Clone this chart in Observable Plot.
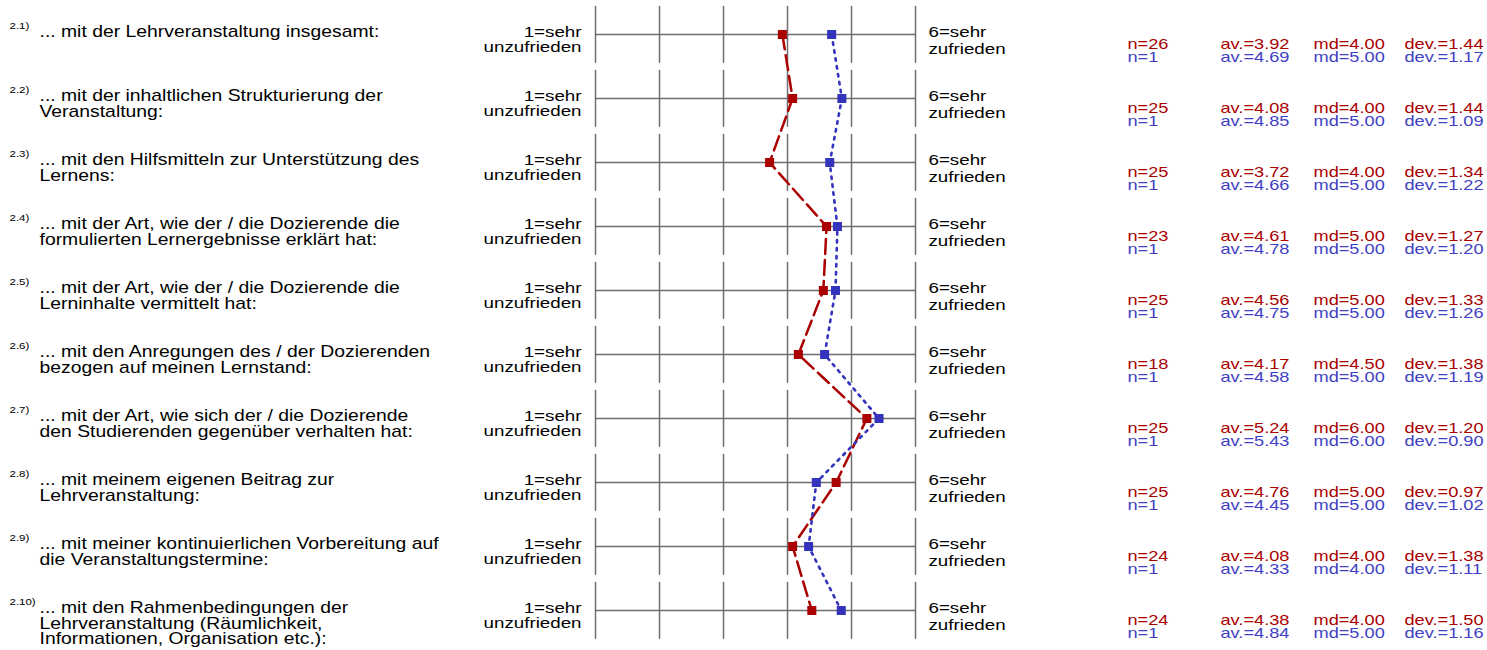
<!DOCTYPE html>
<html>
<head>
<meta charset="utf-8">
<script src="https://cdn.jsdelivr.net/npm/d3@7"></script>
<script src="https://cdn.jsdelivr.net/npm/@observablehq/plot@0.6"></script>
<style>
  html, body { margin: 0; padding: 0; background: #fff; }
</style>
</head>
<body>
<div id="chart"></div>
<script>
const itemNumbers = ["2.1)", "2.2)", "2.3)", "2.4)", "2.5)", "2.6)", "2.7)", "2.8)", "2.9)", "2.10)"];
const itemLabels = [
  "... mit der Lehrveranstaltung insgesamt:",
  "... mit der inhaltlichen Strukturierung der\nVeranstaltung:",
  "... mit den Hilfsmitteln zur Unterstützung des\nLernens:",
  "... mit der Art, wie der / die Dozierende die\nformulierten Lernergebnisse erklärt hat:",
  "... mit der Art, wie der / die Dozierende die\nLerninhalte vermittelt hat:",
  "... mit den Anregungen des / der Dozierenden\nbezogen auf meinen Lernstand:",
  "... mit der Art, wie sich der / die Dozierende\nden Studierenden gegenüber verhalten hat:",
  "... mit meinem eigenen Beitrag zur\nLehrveranstaltung:",
  "... mit meiner kontinuierlichen Vorbereitung auf\ndie Veranstaltungstermine:",
  "... mit den Rahmenbedingungen der\nLehrveranstaltung (Räumlichkeit,\nInformationen, Organisation etc.):"
];
const leftPole = "1=sehr\nunzufrieden";
const rightPole = "6=sehr\nzufrieden";
const scaleTicks = [1, 2, 3, 4, 5, 6];

const redN   = [26, 25, 25, 23, 25, 18, 25, 25, 24, 24];
const redAv  = [3.92, 4.08, 3.72, 4.61, 4.56, 4.17, 5.24, 4.76, 4.08, 4.38];
const redMd  = [4.00, 4.00, 4.00, 5.00, 5.00, 4.50, 6.00, 5.00, 4.00, 4.00];
const redDev = [1.44, 1.44, 1.34, 1.27, 1.33, 1.38, 1.20, 0.97, 1.38, 1.50];

const blueN   = [1, 1, 1, 1, 1, 1, 1, 1, 1, 1];
const blueAv  = [4.69, 4.85, 4.66, 4.78, 4.75, 4.58, 5.43, 4.45, 4.33, 4.84];
const blueMd  = [5.00, 5.00, 5.00, 5.00, 5.00, 5.00, 6.00, 5.00, 4.00, 5.00];
const blueDev = [1.17, 1.09, 1.22, 1.20, 1.26, 1.19, 0.90, 1.02, 1.11, 1.16];

const RED = "#aa0000";
const BLUE = "#3333bb";
const BLUE_TXT = "#4040c4";
const GRID = "#6e6e6e";

const rows = itemLabels.map((label, i) => ({
  row: i + 1, num: itemNumbers[i], label,
  redN: redN[i], redAv: redAv[i], redMd: redMd[i], redDev: redDev[i],
  blueN: blueN[i], blueAv: blueAv[i], blueMd: blueMd[i], blueDev: blueDev[i]
}));
const gridTicks = rows.flatMap(r => scaleTicks.map(t => ({row: r.row, t})));
const f2 = v => v.toFixed(2);

const STRETCH = 1.21;      // text in the reference is horizontally widened
const STAT_STRETCH = 1.3;  // the statistics columns are a bit smaller and wider
const statTxt = {fontSize: 14, frameAnchor: "left", textAnchor: "start", lineAnchor: "top"};
const statCols = [
  ["n=", "N", v => String(v), 1127],
  ["av.=", "Av", f2, 1220],
  ["md=", "Md", f2, 1313],
  ["dev.=", "Dev", f2, 1404]
];
const statMarks = statCols.flatMap(([prefix, key, fmt, x]) => [
  Plot.text(rows, {...statTxt, y: "row", text: d => prefix + fmt(d["red" + key]), dx: x, dy: 4.5, fill: RED}),
  Plot.text(rows, {...statTxt, y: "row", text: d => prefix + fmt(d["blue" + key]), dx: x, dy: 18, fill: BLUE_TXT})
]);

const chart = Plot.plot({
  width: 1487,
  height: 650,
  margin: 0,
  x: {domain: [1, 6], range: [595, 915], axis: null},
  y: {domain: [1, 10], range: [34, 610], axis: null},
  style: {fontFamily: "'Liberation Sans', Arial, sans-serif", background: "#fff"},
  marks: [
    Plot.ruleY(rows, {y: "row", x1: 1, x2: 6, stroke: GRID, strokeWidth: 1.5}),
    Plot.ruleX(gridTicks, {x: "t", y1: d => d.row - 0.44, y2: d => d.row + 0.45, stroke: GRID, strokeWidth: 1.5}),
    Plot.line(rows, {x: "redAv", y: "row", stroke: RED, strokeWidth: 2.5, strokeDasharray: "15,6"}),
    Plot.line(rows, {x: "blueAv", y: "row", stroke: BLUE, strokeWidth: 2.6, strokeDasharray: "2.5,5.5"}),
    Plot.dot(rows, {x: "redAv", y: "row", symbol: "square", r: 5.1, fill: RED, stroke: null}),
    Plot.dot(rows, {x: "blueAv", y: "row", symbol: "square", r: 5.1, fill: BLUE, stroke: null}),
    // item numbers (superscript)
    Plot.text(rows, {y: "row", text: "num", frameAnchor: "left", textAnchor: "start", lineAnchor: "top", dx: 9, dy: -12.5, fontSize: 9.5, fill: "#000"}),
    // item labels
    Plot.text(rows, {y: "row", text: "label", frameAnchor: "left", textAnchor: "start", lineAnchor: "top", fontSize: 16, lineHeight: 0.98, dx: 39, dy: -8.5, fill: "#000"}),
    // scale poles
    Plot.text(rows, {y: "row", text: () => leftPole, frameAnchor: "left", textAnchor: "end", lineAnchor: "top", fontSize: 15.5, lineHeight: 1.0, dx: 581, dy: -9, fill: "#000"}),
    Plot.text(rows, {x: () => 6, y: "row", text: () => rightPole, textAnchor: "start", lineAnchor: "top", fontSize: 15.5, lineHeight: 1.1, dx: 13, dy: -10, fill: "#000"}),
    ...statMarks
  ]
});

// widen every text horizontally around its own anchor, like the reference
chart.querySelectorAll("text").forEach(el => {
  const g = el.closest("g[fill]");
  const f = g ? g.getAttribute("fill") : "";
  const s = (f === RED || f === BLUE_TXT) ? STAT_STRETCH : STRETCH;
  const tr = el.getAttribute("transform");
  if (tr) {
    el.setAttribute("transform", tr + ` scale(${s},1)`);
  } else {
    const x = +el.getAttribute("x") || 0, y = +el.getAttribute("y") || 0;
    el.removeAttribute("x"); el.removeAttribute("y");
    el.setAttribute("transform", `translate(${x},${y}) scale(${s},1)`);
  }
});
document.getElementById("chart").appendChild(chart);
</script>
</body>
</html>
